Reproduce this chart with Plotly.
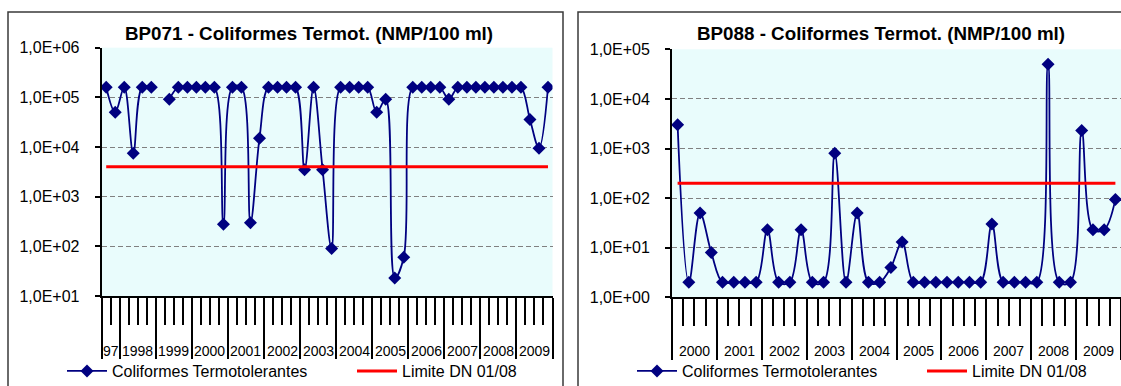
import plotly.graph_objects as go

W, H = 1121, 386

# ---------------- data ----------------
left_title = "BP071 - Coliformes Termot. (NMP/100 ml)"
right_title = "BP088 - Coliformes Termot. (NMP/100 ml)"
series_name = "Coliformes Termotolerantes"
limit_name = "Limite DN 01/08"

left_years = ["97", "1998", "1999", "2000", "2001", "2002", "2003",
              "2004", "2005", "2006", "2007", "2008", "2009"]
left_year_counts = [2, 4, 4, 4, 4, 4, 4, 4, 4, 4, 4, 4, 4]
left_values = [
    160000, 50000,                      # 97
    160000, 7500, 160000, 160000,       # 1998
    None, 92000, 160000, 160000,        # 1999
    160000, 160000, 160000, 280,        # 2000
    160000, 160000, 300, 15000,         # 2001
    160000, 160000, 160000, 160000,     # 2002
    3500, 160000, 3500, 90,             # 2003
    160000, 160000, 160000, 160000,     # 2004
    50000, 92000, 23, 60,               # 2005
    160000, 160000, 160000, 160000,     # 2006
    92000, 160000, 160000, 160000,      # 2007
    160000, 160000, 160000, 160000,     # 2008
    160000, 36000, 9500, 160000,        # 2009
]
left_limit = 4000

right_years = ["2000", "2001", "2002", "2003", "2004",
               "2005", "2006", "2007", "2008", "2009"]
right_year_counts = [4, 4, 4, 4, 4, 4, 4, 4, 4, 4]
right_values = [
    3000, 2, 50, 8,        # 2000
    2, 2, 2, 2,            # 2001
    23, 2, 2, 23,          # 2002
    2, 2, 800, 2,          # 2003
    50, 2, 2, 4,           # 2004
    13, 2, 2, 2,           # 2005
    2, 2, 2, 2,            # 2006
    30, 2, 2, 2,           # 2007
    2, 50000, 2, 2,        # 2008
    2300, 23, 23, 94,      # 2009
]
right_limit = 200

left_ytick_vals = [10, 100, 1000, 10000, 100000, 1000000]
left_ytick_text = ["1,0E+01", "1,0E+02", "1,0E+03", "1,0E+04", "1,0E+05", "1,0E+06"]
right_ytick_vals = [1, 10, 100, 1000, 10000, 100000]
right_ytick_text = ["1,0E+00", "1,0E+01", "1,0E+02", "1,0E+03", "1,0E+04", "1,0E+05"]

# ---------------- helpers ----------------
FONT = "Arial, Liberation Sans, sans-serif"
NAVY = "#000080"
RED = "#FF0000"
BG = "#E9FCFC"


def periods_of(years, counts):
    out = []
    for y, c in zip(years, counts):
        for q in range(c):
            out.append(f"{y}-{q + 1}")
    return out


def year_geometry(counts):
    bounds, centers = [-0.5], []
    start = 0
    for c in counts:
        centers.append(start + c / 2 - 0.5)
        start += c
        bounds.append(start - 0.5)
    return bounds, centers


left_periods = periods_of(left_years, left_year_counts)
right_periods = periods_of(right_years, right_year_counts)
left_x = list(range(len(left_periods)))
right_x = list(range(len(right_periods)))

fig = go.Figure()

for xs, vals, lim, periods, xa, ya, lg in [
    (left_x, left_values, left_limit, left_periods, "x", "y", "legend"),
    (right_x, right_values, right_limit, right_periods, "x2", "y2", "legend2"),
]:
    fig.add_trace(go.Scatter(
        x=xs, y=vals, name=series_name, mode="lines+markers",
        line=dict(color=NAVY, width=1.8, shape="spline", smoothing=1.0),
        marker=dict(symbol="diamond", size=10, color=NAVY),
        connectgaps=False, hovertext=periods,
        xaxis=xa, yaxis=ya, legend=lg,
    ))
    fig.add_trace(go.Scatter(
        x=xs, y=[lim] * len(xs), name=limit_name, mode="lines",
        line=dict(color=RED, width=3),
        xaxis=xa, yaxis=ya, legend=lg,
    ))


def x_axis(n, counts, domain, anchor):
    rng = [-0.5, n - 0.5]
    bounds, centers = year_geometry(counts)
    cat_bounds = [i - 0.5 for i in range(n + 1)]
    ax = dict(
        domain=domain, range=rng, anchor=anchor,
        tickmode="array", tickvals=bounds, ticks="outside",
        ticklen=61, tickwidth=1.5, tickcolor="black",
        minor=dict(tickmode="array", tickvals=cat_bounds, ticks="outside",
                   ticklen=27, tickwidth=1.5, tickcolor="black", showgrid=False),
        showticklabels=False, showgrid=False, zeroline=False,
        showline=True, linecolor="black", linewidth=2,
    )
    return ax, centers


def y_axis(domain, rng, vals, text, anchor):
    return dict(
        domain=domain, type="log", range=rng, anchor=anchor,
        tickmode="array", tickvals=vals, ticktext=text,
        ticks="outside", ticklen=5, tickwidth=1.5, tickcolor="black",
        tickfont=dict(family=FONT, size=16, color="black"),
        ticklabelstandoff=12,
        showgrid=True, gridcolor="#808080", gridwidth=1, griddash="5px,3px",
        zeroline=False, showline=True, linecolor="black", linewidth=2,
    )


lx_dom = [101.7 / W, 552.5 / W]
ly_dom = [1 - 296.0 / H, 1 - 47.7 / H]
rx_dom = [672.0 / W, 1.0]
ry_dom = [1 - 297.3 / H, 1 - 49.3 / H]

lx, lcent = x_axis(len(left_x), left_year_counts, lx_dom, "y")
rx, rcent = x_axis(len(right_x), right_year_counts, rx_dom, "y2")

annotations = []
for xref, cents, labels in [("x", lcent, left_years), ("x2", rcent, right_years)]:
    for c, lab in zip(cents, labels):
        annotations.append(dict(
            text=lab, x=c, y=1 - 351 / H, xref=xref, yref="paper",
            showarrow=False, xanchor="center", yanchor="middle",
            font=dict(family=FONT, size=14, color="black")))

for title, cx in [(left_title, 309), (right_title, 881)]:
    annotations.append(dict(
        text=f"<b>{title}</b>", x=cx / W, y=1 - 34 / H, xref="paper", yref="paper",
        showarrow=False, xanchor="center", yanchor="middle",
        font=dict(family=FONT, size=18.8, color="black")))

legend_common = dict(
    orientation="h", y=1 - 371 / H, xanchor="left", yanchor="middle",
    font=dict(family=FONT, size=16, color="black"),
    bgcolor="rgba(0,0,0,0)", entrywidth=235, entrywidthmode="pixels",
    itemwidth=40,
)

fig.update_layout(
    width=W, height=H,
    margin=dict(l=0, r=0, t=0, b=0, autoexpand=False),
    paper_bgcolor="white", plot_bgcolor=BG,
    showlegend=True,
    xaxis=lx, xaxis2=rx,
    yaxis=y_axis(ly_dom, [1, 6], left_ytick_vals, left_ytick_text, "x"),
    yaxis2=y_axis(ry_dom, [0, 5], right_ytick_vals, right_ytick_text, "x2"),
    legend=dict(x=62 / W, **legend_common),
    legend2=dict(x=632 / W, **legend_common),
    annotations=annotations,
    shapes=[
        dict(type="rect", xref="paper", yref="paper",
             x0=8 / W, x1=563 / W, y0=-0.05, y1=1 - 12 / H,
             line=dict(color="#3a3a3a", width=1.5), layer="below"),
        dict(type="rect", xref="paper", yref="paper",
             x0=578 / W, x1=1.05, y0=-0.05, y1=1 - 12 / H,
             line=dict(color="#3a3a3a", width=1.5), layer="below"),
    ],
)

fig.write_html(
    "out.html",
    config={"displayModeBar": False},
    post_script="document.body.style.margin='0';document.body.style.padding='0';",
)
